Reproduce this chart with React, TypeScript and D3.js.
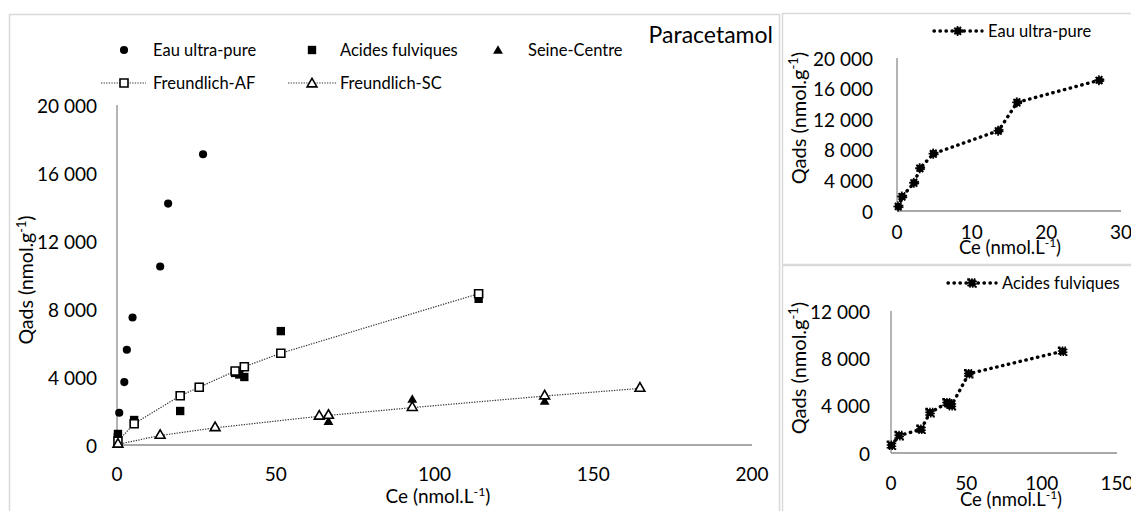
import { FC } from "react";
import * as d3 from "d3";

const W = 1131, H = 511;
const FONT = "Lato, 'Noto Sans', sans-serif";
const AXIS_GREY = "#8c8c8c";
const BORDER = "#d9d9d9";

// Eau ultra-pure
const ULTRA_CE = [0.2, 0.7, 2.3, 3.1, 4.9, 13.6, 16.1, 27.1];
const ULTRA_Q = [600, 1900, 3700, 5600, 7500, 10500, 14200, 17100];
// Acides fulviques
const AF_CE = [0.3, 5.4, 19.9, 25.9, 37.2, 38.5, 40.1, 51.6, 113.9];
const AF_Q = [650, 1470, 2000, 3410, 4240, 4150, 4000, 6700, 8600];
// Seine-Centre
const SC_CE = [0.3, 13.6, 30.9, 63.7, 66.6, 93, 134.7, 164.7];
const SC_Q = [100, 530, 1060, 1700, 1350, 2650, 2530, 3350];
// Freundlich fits
const FAF_CE = [0.3, 5.4, 19.9, 25.9, 37.2, 40.1, 51.6, 113.9];
const FAF_Q = [230, 1250, 2900, 3400, 4350, 4600, 5400, 8900];
const FSC_CE = [0.3, 13.6, 30.9, 63.7, 66.6, 93, 134.7, 164.7];
const FSC_Q = [40, 560, 1010, 1690, 1740, 2200, 2880, 3330];

const MAIN_X_TICKS = [0, 50, 100, 150, 200];
const MAIN_Y_TICKS = [0, 4000, 8000, 12000, 16000, 20000];
const TOP_X_TICKS = [0, 10, 20, 30];
const TOP_Y_TICKS = [0, 4000, 8000, 12000, 16000, 20000];
const BOT_X_TICKS = [0, 50, 100, 150];
const BOT_Y_TICKS = [0, 4000, 8000, 12000];

const fmt = (v: number) => d3.format(",")(v).replace(/,/g, " ");
const zip = (xs: number[], ys: number[]) => xs.map((x, i) => [x, ys[i]] as [number, number]);

const sym = (type: d3.SymbolType, size: number) => d3.symbol().type(type).size(size)() || "";

// dotted style of the small charts
const DOT_LINE = { stroke: "#000", strokeWidth: 3.4, strokeDasharray: "0.4 5.6", strokeLinecap: "round" as const };

// small helper for "Qads (nmol.g-1)" style titles
const UnitText: FC<{ x: number; y: number; pre: string; rotate?: boolean; size: number }> = ({ x, y, pre, rotate, size }) => (
  <text
    transform={`translate(${x},${y})${rotate ? " rotate(-90)" : ""}`}
    textAnchor="middle"
    fontSize={size}
    fontFamily={FONT}
    fill="#000"
  >
    {pre}
    <tspan dy={-size * 0.38} fontSize={size * 0.65}>-1</tspan>
    <tspan dy={size * 0.38}>)</tspan>
  </text>
);

const MainChart: FC = () => {
  const x = d3.scaleLinear().domain([0, 200]).range([117, 752]);
  const y = d3.scaleLinear().domain([0, 20000]).range([445, 105]);
  const line = d3.line<[number, number]>().x((d) => x(d[0])).y((d) => y(d[1]));

  const circle = sym(d3.symbolCircle, 52);
  const square = sym(d3.symbolSquare, 70);
  const tri = sym(d3.symbolTriangle, 42);
  const openSq = sym(d3.symbolSquare, 64);
  const openTri = sym(d3.symbolTriangle, 42);

  return (
    <g fontFamily={FONT}>
      <line x1={x(0)} x2={x(0)} y1={y(20000)} y2={y(0)} stroke={AXIS_GREY} strokeWidth={1.3} />
      <line x1={x(0)} x2={x(200)} y1={y(0)} y2={y(0)} stroke={AXIS_GREY} strokeWidth={1.3} />
      {MAIN_Y_TICKS.map((t) => (
        <text key={t} x={97} y={y(t)} textAnchor="end" dominantBaseline="central" fontSize={19}>
          {fmt(t)}
        </text>
      ))}
      {MAIN_X_TICKS.map((t) => (
        <text key={t} x={x(t)} y={473} textAnchor="middle" dominantBaseline="central" fontSize={19}>
          {t}
        </text>
      ))}
      <UnitText x={438} y={503} pre="Ce (nmol.L" size={19} />
      <UnitText x={33} y={280} pre="Qads (nmol.g" size={19.5} rotate />
      <text x={773} y={43} textAnchor="end" fontSize={23}>Paracetamol</text>

      {zip(ULTRA_CE, ULTRA_Q).map((d, i) => (
        <path key={"u" + i} d={circle} transform={`translate(${x(d[0])},${y(d[1])})`} fill="#000" />
      ))}
      {zip(AF_CE, AF_Q).map((d, i) => (
        <path key={"a" + i} d={square} transform={`translate(${x(d[0])},${y(d[1])})`} fill="#000" />
      ))}
      {zip(SC_CE, SC_Q).map((d, i) => (
        <path key={"s" + i} d={tri} transform={`translate(${x(d[0])},${y(d[1])})`} fill="#000" />
      ))}
      <path d={line(zip(FAF_CE, FAF_Q)) || ""} fill="none" stroke="#333" strokeWidth={1.2} strokeDasharray="1.3 1.3" />
      {zip(FAF_CE, FAF_Q).map((d, i) => (
        <path key={"fa" + i} d={openSq} transform={`translate(${x(d[0])},${y(d[1])})`} fill="#fff" stroke="#000" strokeWidth={1.6} />
      ))}
      <path d={line(zip(FSC_CE, FSC_Q)) || ""} fill="none" stroke="#333" strokeWidth={1.2} strokeDasharray="1.3 1.3" />
      {zip(FSC_CE, FSC_Q).map((d, i) => (
        <path key={"fs" + i} d={openTri} transform={`translate(${x(d[0])},${y(d[1])})`} fill="#fff" stroke="#000" strokeWidth={1.6} />
      ))}

      {/* legend */}
      <g fontSize={16.5}>
        <path d={circle} transform="translate(124,50)" fill="#000" />
        <text x={153} y={50} dominantBaseline="central">Eau ultra-pure</text>
        <path d={square} transform="translate(312,50)" fill="#000" />
        <text x={340} y={50} dominantBaseline="central">Acides fulviques</text>
        <path d={tri} transform="translate(498,51)" fill="#000" />
        <text x={528} y={50} dominantBaseline="central">Seine-Centre</text>

        <line x1={101} x2={146} y1={83} y2={83} stroke="#333" strokeWidth={1.2} strokeDasharray="1.3 1.3" />
        <path d={openSq} transform="translate(124,83)" fill="#fff" stroke="#000" strokeWidth={1.6} />
        <text x={153} y={83} dominantBaseline="central">Freundlich-AF</text>
        <line x1={288} x2={337} y1={83} y2={83} stroke="#333" strokeWidth={1.2} strokeDasharray="1.3 1.3" />
        <path d={openTri} transform="translate(312,84)" fill="#fff" stroke="#000" strokeWidth={1.6} />
        <text x={340} y={83} dominantBaseline="central">Freundlich-SC</text>
      </g>
    </g>
  );
};

interface InsetProps {
  ce: number[];
  q: number[];
  xDomain: [number, number];
  xRange: [number, number];
  yDomain: [number, number];
  yRange: [number, number];
  xTicks: number[];
  yTicks: number[];
  xLabelY: number;
  yLabelX: number;
  xTitleX: number;
  xTitleY: number;
  yTitleY: number;
  legendY: number;
  legendX: number;
  label: string;
  marker: "circle" | "square";
}

const Inset: FC<InsetProps> = (p) => {
  const x = d3.scaleLinear().domain(p.xDomain).range(p.xRange);
  const y = d3.scaleLinear().domain(p.yDomain).range(p.yRange);
  const line = d3.line<[number, number]>().x((d) => x(d[0])).y((d) => y(d[1]));
  const mark = p.marker === "circle" ? sym(d3.symbolCircle, 45) : sym(d3.symbolSquare, 50);
  const pts = zip(p.ce, p.q);

  return (
    <g fontFamily={FONT}>
      <line x1={x(p.xDomain[0])} x2={x(p.xDomain[0])} y1={y(p.yDomain[1])} y2={y(0)} stroke={AXIS_GREY} strokeWidth={1.3} />
      <line x1={x(p.xDomain[0])} x2={x(p.xDomain[1])} y1={y(0)} y2={y(0)} stroke={AXIS_GREY} strokeWidth={1.3} />
      {p.yTicks.map((t) => (
        <text key={t} x={p.yLabelX} y={y(t)} textAnchor="end" dominantBaseline="central" fontSize={19}>
          {fmt(t)}
        </text>
      ))}
      {p.xTicks.map((t) => (
        <text key={t} x={x(t)} y={p.xLabelY} textAnchor="middle" dominantBaseline="central" fontSize={19}>
          {t}
        </text>
      ))}
      <UnitText x={p.xTitleX} y={p.xTitleY} pre="Ce (nmol.L" size={18.5} />
      <UnitText x={806} y={p.yTitleY} pre="Qads (nmol.g" size={20} rotate />

      <path d={line(pts) || ""} fill="none" {...DOT_LINE} />
      {pts.map((d, i) => (
        <path key={i} d={mark} transform={`translate(${x(d[0])},${y(d[1])})`} fill="#000" stroke="#000" strokeWidth={2.5} strokeDasharray="1.5 1.2" />
      ))}

      <line x1={p.legendX - 24} x2={p.legendX + 24} y1={p.legendY} y2={p.legendY} {...DOT_LINE} />
      <path d={mark} transform={`translate(${p.legendX},${p.legendY})`} fill="#000" stroke="#000" strokeWidth={2.5} strokeDasharray="1.5 1.2" />
      <text x={p.legendX + 30} y={p.legendY} dominantBaseline="central" fontSize={16.5}>{p.label}</text>
    </g>
  );
};

const App: FC = () => {
  return (
    <svg width={W} height={H} style={{ position: "absolute", left: 0, top: 0, background: "#fff" }}>
      <rect x={9.5} y={14.5} width={770} height={H} fill="#fff" stroke={BORDER} strokeWidth={1.5} />
      <rect x={782.5} y={13.5} width={360} height={251} fill="#fff" stroke={BORDER} strokeWidth={1.5} />
      <rect x={782.5} y={265.5} width={360} height={260} fill="#fff" stroke={BORDER} strokeWidth={1.5} />
      <MainChart />
      <Inset
        ce={ULTRA_CE}
        q={ULTRA_Q}
        xDomain={[0, 30]}
        xRange={[897, 1121]}
        yDomain={[0, 20000]}
        yRange={[211, 58]}
        xTicks={TOP_X_TICKS}
        yTicks={TOP_Y_TICKS}
        xLabelY={231}
        yLabelX={873}
        xTitleX={1010}
        xTitleY={254}
        yTitleY={118}
        legendX={958}
        legendY={31}
        label="Eau ultra-pure"
        marker="circle"
      />
      <Inset
        ce={AF_CE}
        q={AF_Q}
        xDomain={[0, 150]}
        xRange={[891, 1117]}
        yDomain={[0, 12000]}
        yRange={[453, 311]}
        xTicks={BOT_X_TICKS}
        yTicks={BOT_Y_TICKS}
        xLabelY={482}
        yLabelX={870}
        xTitleX={1011}
        xTitleY={506}
        yTitleY={368}
        legendX={972}
        legendY={283}
        label="Acides fulviques"
        marker="square"
      />
    </svg>
  );
};

export default App;
